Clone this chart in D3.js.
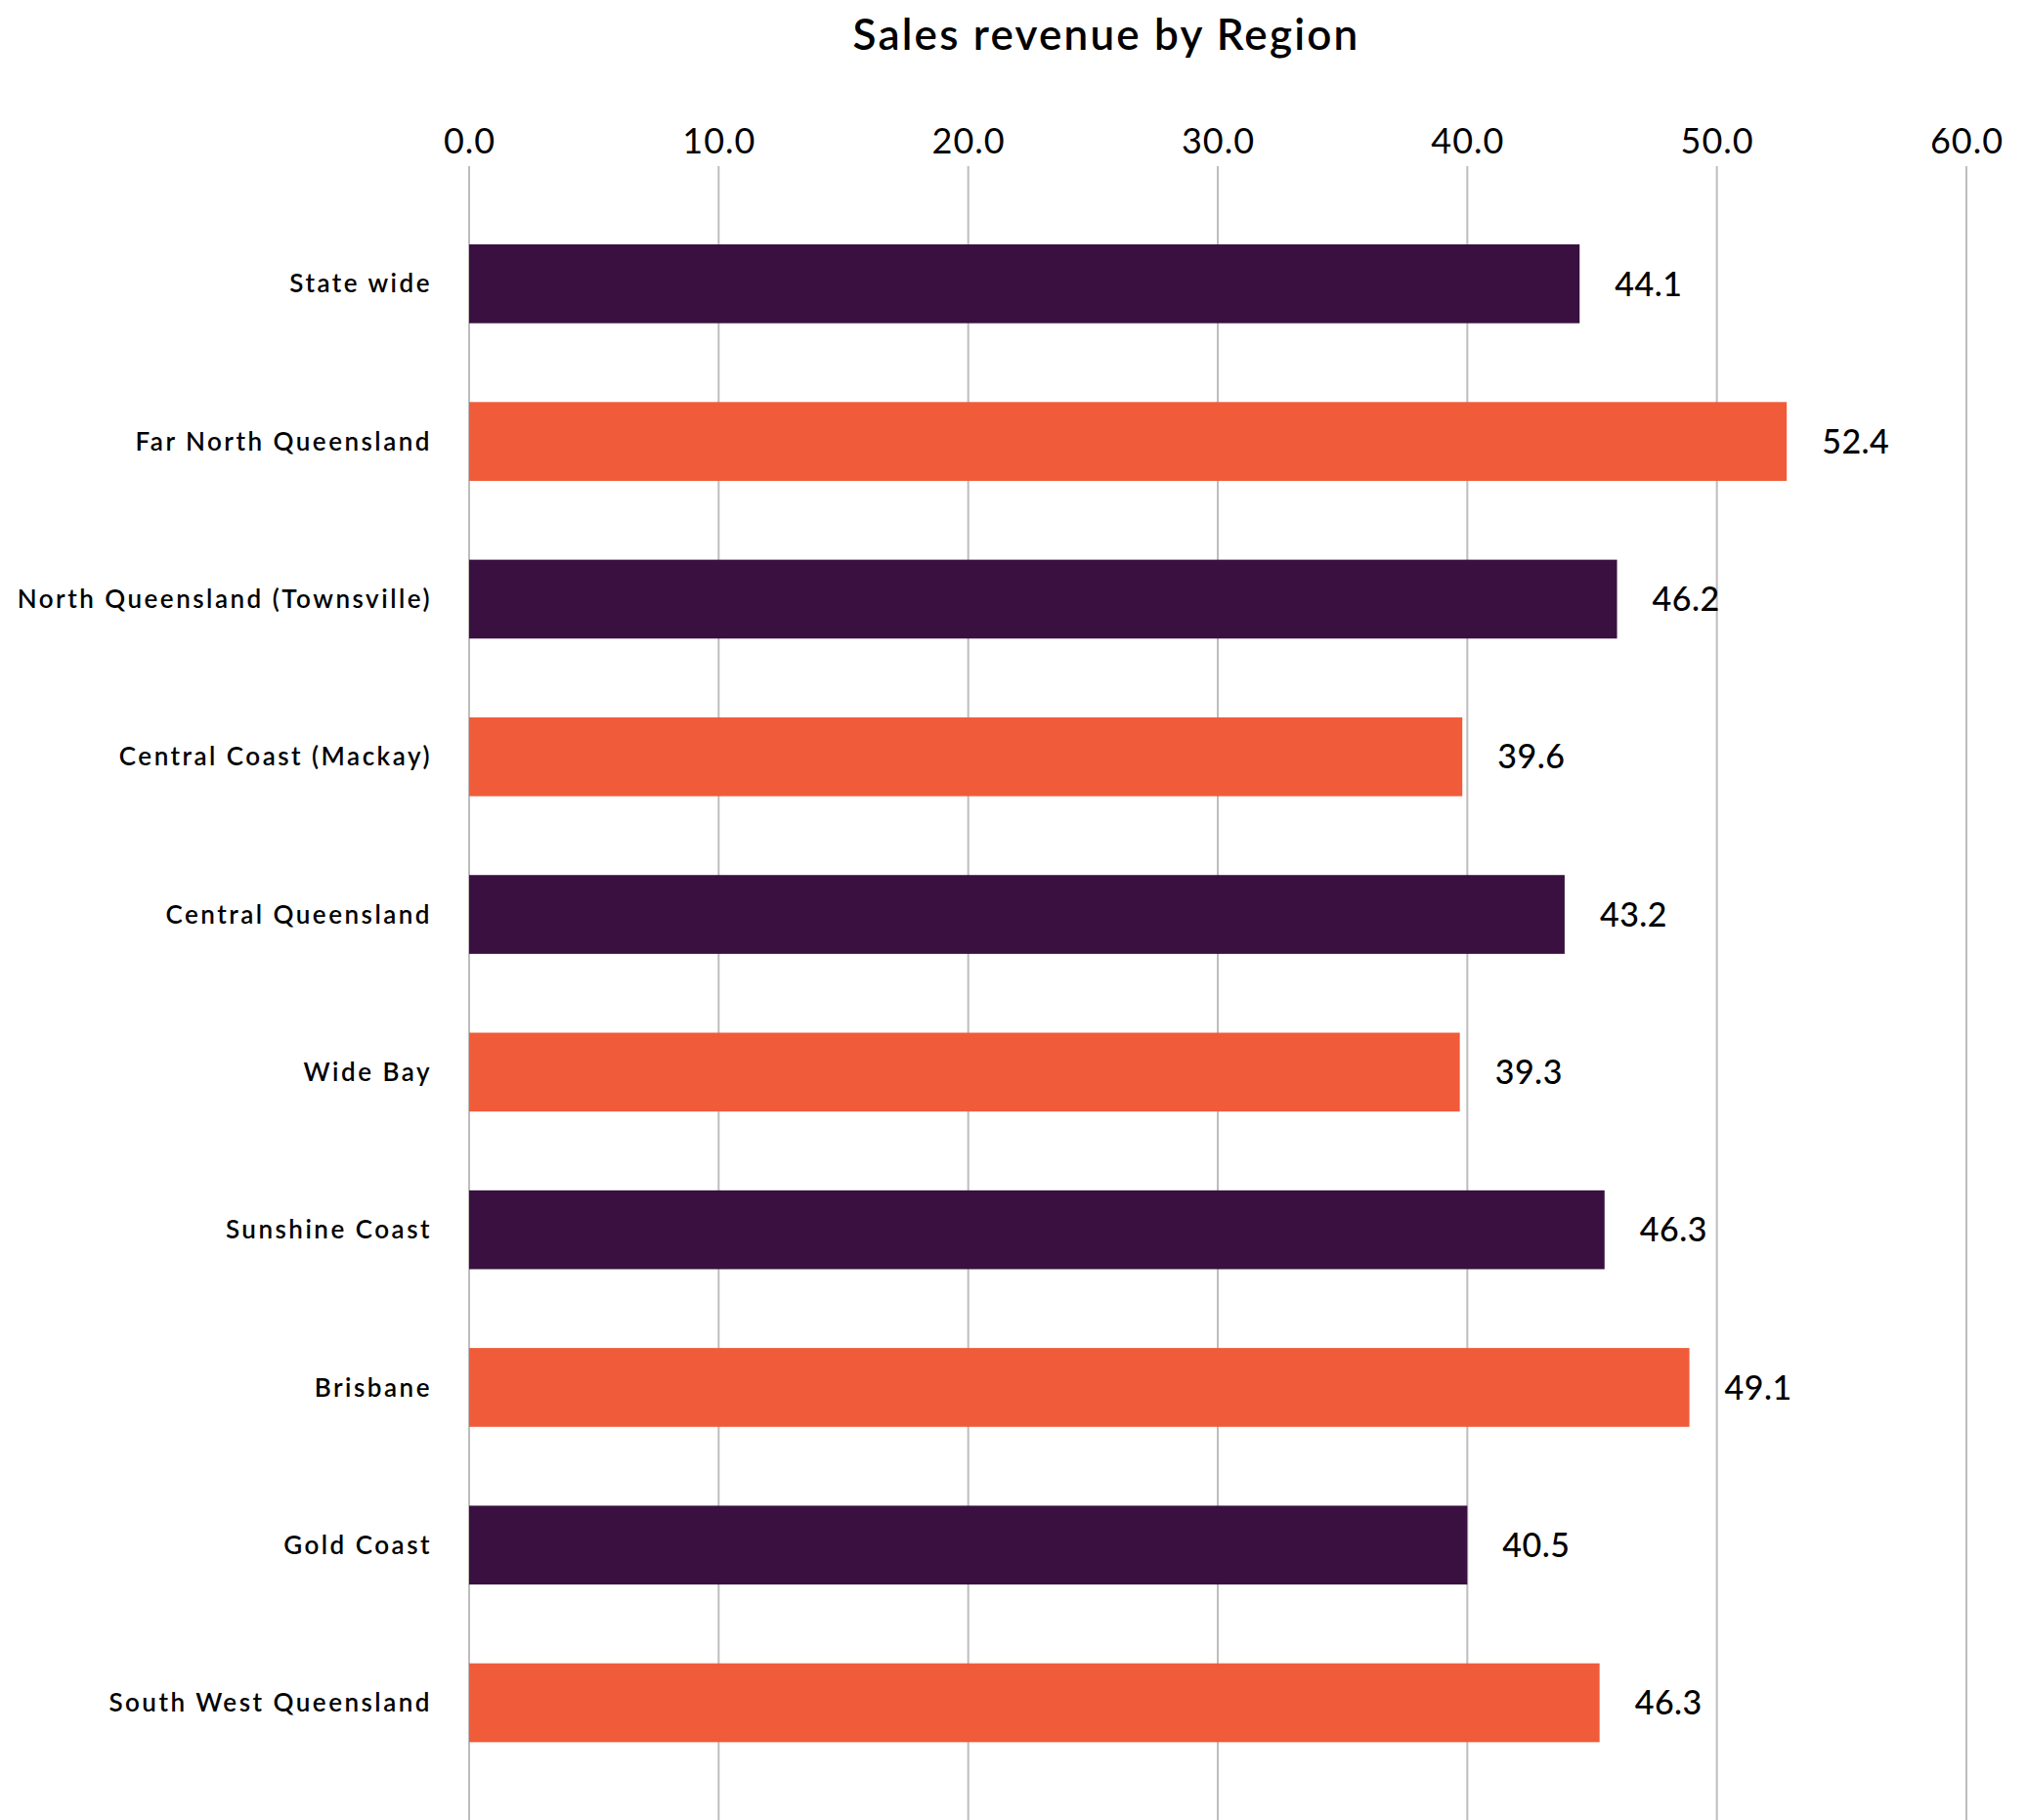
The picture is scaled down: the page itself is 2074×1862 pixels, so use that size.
<!DOCTYPE html>
<html>
<head>
<meta charset="utf-8">
<script src="https://cdn.jsdelivr.net/npm/d3@7"></script>
<style>
  html, body { margin: 0; padding: 0; background: #fff; }
  svg { display: block; font-family: Lato, "Open Sans", sans-serif; }
</style>
</head>
<body>
<div id="chart"></div>
<script>
// --- Data ---
const regions = [
  "State wide",
  "Far North Queensland",
  "North Queensland (Townsville)",
  "Central Coast (Mackay)",
  "Central Queensland",
  "Wide Bay",
  "Sunshine Coast",
  "Brisbane",
  "Gold Coast",
  "South West Queensland"
];
// bar lengths as drawn in the picture
const barValues = [44.5, 52.8, 46.0, 39.8, 43.9, 39.7, 45.5, 48.9, 40.0, 45.3];
// value labels printed next to the bars
const labelValues = ["44.1", "52.4", "46.2", "39.6", "43.2", "39.3", "46.3", "49.1", "40.5", "46.3"];
const xTicks = [0, 10, 20, 30, 40, 50, 60];
const colors = ["#391040", "#f05b3a"];

const width = 2074, height = 1862;
const margin = { top: 170, right: 62, bottom: 0, left: 480 };

const svg = d3.select("#chart")
  .append("svg")
  .attr("width", width)
  .attr("height", height);

// --- Scales ---
const x = d3.scaleLinear()
  .domain([0, 60])
  .range([margin.left, width - margin.right]);

const y = d3.scaleBand()
  .domain(regions)
  .range([209.7, 1822.7])
  .paddingInner(0.5)
  .paddingOuter(0.25);

// --- Gridlines + top axis ---
const axis = svg.append("g")
  .attr("transform", `translate(0,${margin.top})`)
  .call(d3.axisTop(x).tickValues(xTicks).tickFormat(d3.format(".1f")).tickSize(0).tickPadding(13));
axis.select(".domain").remove();
axis.selectAll("text")
  .attr("font-family", "Lato, sans-serif")
  .attr("font-size", 36)
  .attr("letter-spacing", 1)
  .attr("fill", "#000");

svg.append("g")
  .selectAll("line")
  .data(xTicks)
  .join("line")
  .attr("x1", d => x(d))
  .attr("x2", d => x(d))
  .attr("y1", margin.top)
  .attr("y2", height)
  .attr("stroke", "#bdbdbd")
  .attr("stroke-width", 2);

// --- Bars ---
svg.append("g")
  .selectAll("rect")
  .data(regions)
  .join("rect")
  .attr("x", x(0))
  .attr("y", d => y(d))
  .attr("width", (d, i) => x(barValues[i]) - x(0))
  .attr("height", y.bandwidth())
  .attr("fill", (d, i) => colors[i % 2]);

// --- Category labels ---
svg.append("g")
  .selectAll("text")
  .data(regions)
  .join("text")
  .attr("x", 442)
  .attr("y", d => y(d) + y.bandwidth() / 2)
  .attr("dy", "0.35em")
  .attr("text-anchor", "end")
  .attr("font-size", 26)
  .attr("font-weight", 600)
  .attr("letter-spacing", 2.5)
  .attr("fill", "#000")
  .text(d => d);

// --- Value labels ---
svg.append("g")
  .selectAll("text")
  .data(regions)
  .join("text")
  .attr("x", (d, i) => x(barValues[i]) + 36)
  .attr("y", d => y(d) + y.bandwidth() / 2)
  .attr("dy", "0.36em")
  .attr("font-size", 34)
  .attr("font-weight", 500)
  .attr("letter-spacing", 0.5)
  .attr("fill", "#000")
  .text((d, i) => labelValues[i]);

// --- Title ---
svg.append("text")
  .attr("x", 1132)
  .attr("y", 51)
  .attr("text-anchor", "middle")
  .attr("font-size", 44)
  .attr("font-weight", 600)
  .attr("letter-spacing", 2.2)
  .attr("fill", "#000")
  .text("Sales revenue by Region");
</script>
</body>
</html>
